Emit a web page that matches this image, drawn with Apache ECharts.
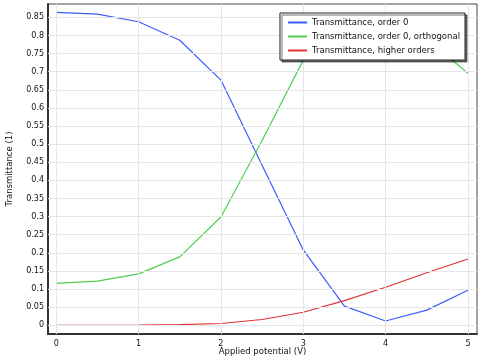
<!DOCTYPE html>
<html>
<head>
<meta charset="utf-8">
<script src="https://cdn.jsdelivr.net/npm/echarts@6/dist/echarts.min.js"></script>
<style>html,body{margin:0;padding:0;background:#fff;}#c{width:483px;height:360px;}</style>
</head>
<body>
<div id="c"></div>
<script>
var potential = [0, 0.5, 1, 1.5, 2, 2.5, 3, 3.5, 4, 4.5, 5];
var order0 = [0.864, 0.859, 0.838, 0.787, 0.677, 0.442, 0.208, 0.053, 0.012, 0.042, 0.097];
var order0orth = [0.116, 0.122, 0.142, 0.189, 0.299, 0.510, 0.732, 0.852, 0.856, 0.790, 0.696];
var higher = [0.0, 0.0, 0.0005, 0.002, 0.005, 0.016, 0.036, 0.068, 0.105, 0.145, 0.183];
var xTicks = [0, 1, 2, 3, 4, 5];
var yTicks = [0, 0.05, 0.1, 0.15, 0.2, 0.25, 0.3, 0.35, 0.4, 0.45, 0.5, 0.55, 0.6, 0.65, 0.7, 0.75, 0.8, 0.85];
var names = ['Transmittance, order 0', 'Transmittance, order 0, orthogonal', 'Transmittance, higher orders'];
var colors = ['#3d5cff', '#4fcf4f', '#e03232'];

function pairs(ys) { return potential.map(function (x, i) { return [x, ys[i]]; }); }
function fmt(v) { return String(Math.round(v * 100) / 100); }

var font = 'DejaVu Sans';
var chart = echarts.init(document.getElementById('c'));
var baseX = { type: 'value', min: -0.1, max: 5.11 };
var baseY = { type: 'value', min: -0.024, max: 0.887 };
chart.setOption({
  animation: false,
  textStyle: { fontFamily: font },
  grid: { left: 48, right: 6, top: 4, bottom: 26, show: true, borderColor: '#444', borderWidth: 1, containLabel: false, outerBoundsMode: 'none' },
  legend: {
    right: 18, top: 13, orient: 'vertical', itemGap: 5, itemWidth: 19, itemHeight: 2,
    icon: 'rect', padding: [5, 5, 5, 8], z: 20,
    backgroundColor: '#fff', borderColor: '#222', borderWidth: 1,
    shadowColor: 'rgba(0,0,0,0.55)', shadowBlur: 0, shadowOffsetX: 2, shadowOffsetY: 2,
    textStyle: { fontSize: 8.5, color: '#111', fontFamily: font },
    data: names
  },
  xAxis: [
    Object.assign({}, baseX, {
      position: 'bottom',
      name: 'Applied potential (V)', nameLocation: 'middle', nameGap: 13, nameMoveOverlap: false,
      nameTextStyle: { fontSize: 8.5, color: '#111' },
      axisLine: { show: true, onZero: false, lineStyle: { color: '#333', width: 2 } },
      axisTick: { show: true, inside: true, length: 4, customValues: xTicks, lineStyle: { color: '#333' } },
      axisLabel: { fontSize: 8, color: '#111', margin: 6, customValues: xTicks, formatter: fmt },
      splitLine: { show: false }
    }),
    Object.assign({}, baseX, {
      position: 'top',
      axisLine: { show: false },
      axisTick: { show: true, inside: true, length: 4, customValues: xTicks, lineStyle: { color: '#333' } },
      axisLabel: { show: false },
      splitLine: { show: false }
    })
  ],
  yAxis: [
    Object.assign({}, baseY, {
      position: 'left',
      name: 'Transmittance (1)', nameLocation: 'middle', nameGap: 34, nameRotate: 90, nameMoveOverlap: false,
      nameTextStyle: { fontSize: 8.5, color: '#111' },
      axisLine: { show: true, onZero: false, lineStyle: { color: '#333', width: 2 } },
      axisTick: { show: true, inside: true, length: 4, customValues: yTicks, lineStyle: { color: '#333' } },
      axisLabel: { fontSize: 8, color: '#111', margin: 4, customValues: yTicks, formatter: fmt },
      splitLine: { show: false }
    }),
    Object.assign({}, baseY, {
      position: 'right',
      axisLine: { show: false },
      axisTick: { show: true, inside: true, length: 4, customValues: yTicks, lineStyle: { color: '#333' } },
      axisLabel: { show: false },
      splitLine: { show: false }
    })
  ],
  series: [
    {
      name: '_grid', type: 'line', data: [], silent: true, xAxisIndex: 0, yAxisIndex: 0,
      markLine: {
        silent: true, symbol: 'none', label: { show: false },
        lineStyle: { color: '#e6e6e6', width: 1, type: 'solid' },
        data: xTicks.map(function (v) { return { xAxis: v }; }).concat(yTicks.map(function (v) { return { yAxis: v }; }))
      }
    }
  ].concat(names.map(function (n, i) {
    return {
      name: n, type: 'line', data: pairs([order0, order0orth, higher][i]),
      showSymbol: false, symbol: 'none', color: colors[i],
      lineStyle: { width: 1.2, color: colors[i] }, z: 2
    };
  }))
});
</script>
</body>
</html>
